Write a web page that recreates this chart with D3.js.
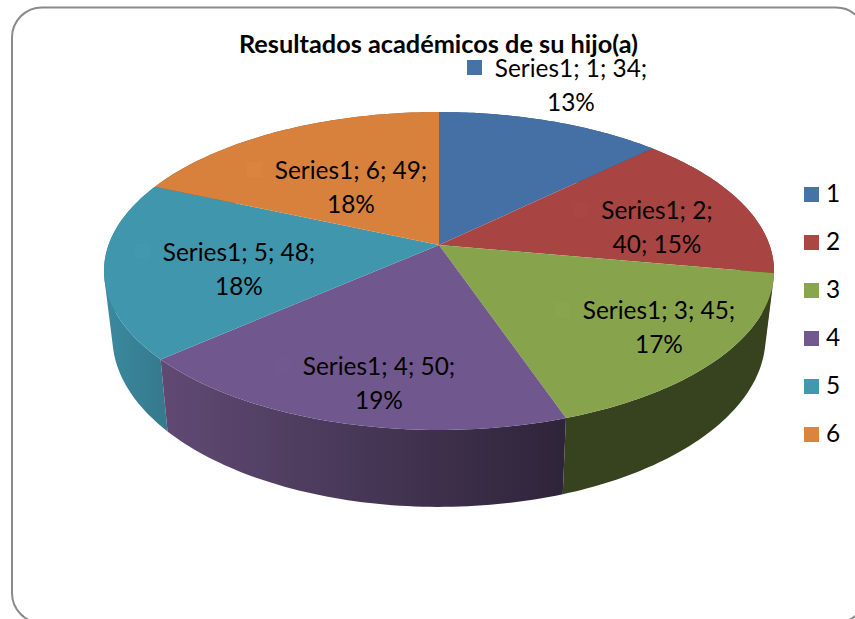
<!DOCTYPE html>
<html><head><meta charset="utf-8">
<script src="https://cdn.jsdelivr.net/npm/d3@7"></script>
<style>html,body{margin:0;padding:0;background:#fff;overflow:hidden}svg{display:block}text{font-family:Lato,"Noto Sans",sans-serif;fill:#000}</style>
</head><body><svg id="c" width="855" height="619"></svg>
<script>
const categories = ["1","2","3","4","5","6"];
const values = [34,40,45,50,48,49];
const percents = ["13%","15%","17%","19%","18%","18%"];
const seriesName = "Series1";
const title = "Resultados académicos de su hijo(a)";
const keyColors = ["#4572A7","#AA4643","#89A54E","#71588F","#4198AF","#DB843D"];
const topColors = ["#4470A5","#A84442","#87A34C","#70578D","#4096AD","#D8813D"];
const wallLeft  = ["#34557d","#6e2d2b","#37431f","#604a74","#3a8aa0","#8f5428"];
const wallRight = ["#34557d","#6e2d2b","#37431f","#2e2439","#367a8e","#8f5428"];

const svg = d3.select("#c");
// frame
svg.append("rect").attr("x",12).attr("y",7.5).attr("width",854).attr("height",615.5)
  .attr("rx",30).attr("ry",30).attr("fill","#fff").attr("stroke","#8a8a8a").attr("stroke-width",2);

// projective view of the pie disc
const cx=439, cy=245, A=330.5, B=154.7, k=0.1635;
const pie = d3.pie().sort(null).value(d=>d);
const arcs = pie(values);
const topPt = a => { const u=Math.sin(a), v=-Math.cos(a), w=1-k*v; return [cx+A*u/w, cy+B*v/w]; };
const botPt = a => { const p=topPt(a); return [cx+(p[0]-cx)*0.975, cy+(p[1]-cy)*1.07+64]; };
const line = d3.line();
const sweep = (a0,a1) => d3.range(0,61).map(i=>a0+(a1-a0)*i/60);

const defs = svg.append("defs");
arcs.forEach((d,i)=>{
  const xs = sweep(d.startAngle,d.endAngle).map(a=>topPt(a)[0]);
  const g = defs.append("linearGradient").attr("id","w"+i).attr("gradientUnits","userSpaceOnUse")
    .attr("x1",d3.min(xs)).attr("x2",d3.max(xs)).attr("y1",0).attr("y2",0);
  g.append("stop").attr("offset",0).attr("stop-color",wallLeft[i]);
  g.append("stop").attr("offset",1).attr("stop-color",wallRight[i]);
});
// walls: one path per slice made of same-winding quads, back to front, so the silhouette is complete
const order = d3.range(arcs.length).sort((a,b)=>topPt((arcs[a].startAngle+arcs[a].endAngle)/2)[1]-topPt((arcs[b].startAngle+arcs[b].endAngle)/2)[1]);
order.forEach(i=>{
  const d=arcs[i], s=sweep(d.startAngle,d.endAngle);
  const path = d3.pairs(s).map(([a,b])=>{
    const q=[topPt(a),topPt(b),botPt(b),botPt(a)];
    if (d3.polygonArea(q)<0) q.reverse();
    return line(q)+"Z";
  }).join("");
  svg.append("path").attr("d",path).attr("fill","url(#w"+i+")").attr("fill-rule","nonzero");
});
// top faces
arcs.forEach((d,i)=>{
  const s=sweep(d.startAngle,d.endAngle);
  svg.append("path").attr("d",line([[cx,cy]].concat(s.map(topPt)))+"Z").attr("fill",topColors[i]);
});

// title
svg.append("text").attr("x",438.5).attr("y",53).attr("text-anchor","middle")
  .attr("font-size",25.3).attr("font-weight",700).text(title);

// data labels: [swatch x, swatch y, text centre x, first baseline]
const labelPos = [[467,60,571,77],[573,202,657,219],[555,302,659,319],[275,358,379,375],[135,244,239,261],[247,162,351,179]];
const labelBreak = [3,2,3,3,3,3];
categories.forEach((c,i)=>{
  const [sx,sy,tx,ty]=labelPos[i];
  svg.append("rect").attr("x",sx).attr("y",sy).attr("width",15).attr("height",15).attr("fill",keyColors[i]);
  const parts=[seriesName+";",c+";",values[i]+";",percents[i]];
  const l1=parts.slice(0,labelBreak[i]).join(" "), l2=parts.slice(labelBreak[i]).join(" ");
  [l1,l2].forEach((t,j)=>svg.append("text").attr("x",tx).attr("y",ty+j*33.5).attr("text-anchor","middle")
    .attr("font-size",24.4).text(t));
});

// legend
const legY = d3.scalePoint().domain(categories).range([187,427]);
categories.forEach((c,i)=>{
  svg.append("rect").attr("x",804).attr("y",legY(c)).attr("width",15).attr("height",15).attr("fill",keyColors[i]);
  svg.append("text").attr("x",826).attr("y",legY(c)+15).attr("font-size",24.4).text(c);
});
</script></body></html>
